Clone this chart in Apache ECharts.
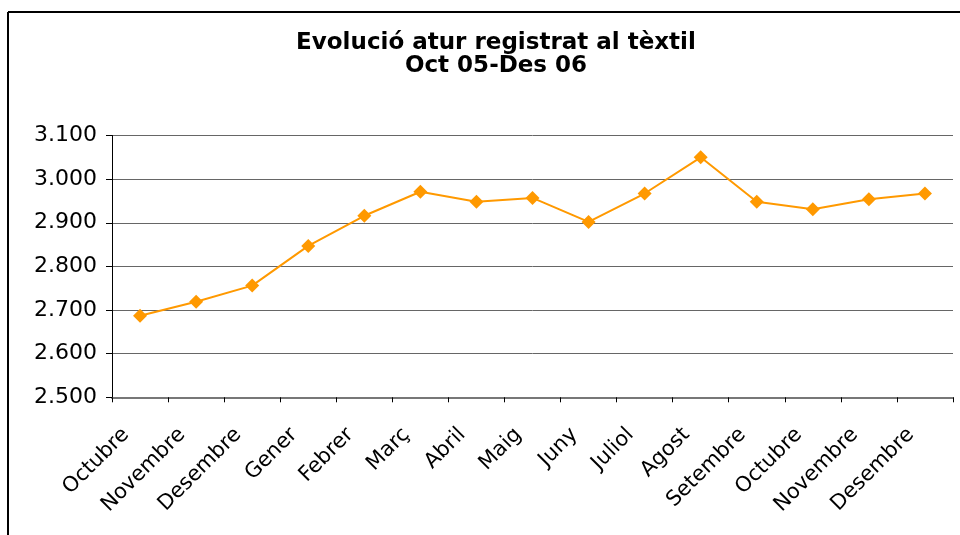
<!DOCTYPE html>
<html>
<head>
<meta charset="utf-8">
<script src="https://cdn.jsdelivr.net/npm/echarts@6/dist/echarts.min.js"></script>
<style>html,body{margin:0;padding:0;background:#fff;}#c{width:960px;height:535px;}</style>
</head>
<body>
<div id="c"></div>
<script>
const categories = ['Octubre','Novembre','Desembre','Gener','Febrer','Març','Abril','Maig','Juny','Juliol','Agost','Setembre','Octubre','Novembre','Desembre'];
const values = [2687, 2719, 2756, 2847, 2916, 2971, 2948, 2957, 2902, 2967, 3050, 2948, 2931, 2954, 2967];
const titleLines = ['Evolució atur registrat al tèxtil', 'Oct 05-Des 06'];

const chart = echarts.init(document.getElementById('c'), null, {renderer: 'canvas'});
chart.setOption({
  animation: false,
  backgroundColor: '#fff',
  title: {
    text: titleLines.join('\n'),
    left: 491, textAlign: 'center', top: 27,
    textStyle: {fontFamily: 'DejaVu Sans', fontWeight: 'bold', fontSize: 23, color: '#000', lineHeight: 23}
  },
  graphic: [
    {type: 'line', shape: {x1: 8, y1: 12, x2: 960, y2: 12}, style: {stroke: '#000', lineWidth: 2}},
    {type: 'line', shape: {x1: 8, y1: 12, x2: 8, y2: 535}, style: {stroke: '#000', lineWidth: 2}}
  ],
  grid: {left: 112, right: 7, top: 135.5, bottom: 137.7},
  xAxis: {
    type: 'category', data: categories, boundaryGap: true,
    axisLine: {lineStyle: {color: '#777', width: 2}},
    axisTick: {show: true, length: 5, lineStyle: {color: '#000'}},
    axisLabel: {rotate: 45, fontFamily: 'DejaVu Sans', fontSize: 21, color: '#000', margin: 20, interval: 0,
      padding: [0, 20, 0, 0]}
  },
  yAxis: {
    type: 'value', min: 2500, max: 3100, interval: 100,
    axisLine: {show: true, lineStyle: {color: '#000', width: 1}},
    axisTick: {show: true, length: 6, lineStyle: {color: '#000'}},
    splitLine: {lineStyle: {color: '#666', width: 1}},
    axisLabel: {fontFamily: 'DejaVu Sans', fontSize: 22, color: '#000', margin: 15,
      formatter: v => String(v).replace(/(\d)(\d{3})$/, '$1.$2')}
  },
  series: [{
    type: 'line', data: values,
    symbol: 'diamond', symbolSize: 14,
    lineStyle: {color: '#FF9900', width: 2},
    itemStyle: {color: '#FF9900'}
  }]
});
</script>
</body>
</html>
